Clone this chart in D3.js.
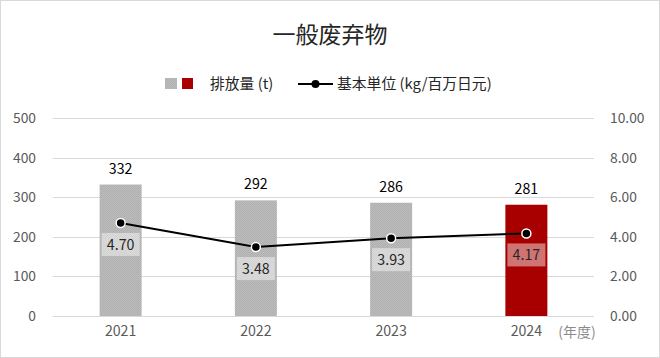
<!DOCTYPE html>
<html><head><meta charset="utf-8">
<script src="https://cdn.jsdelivr.net/npm/d3@7"></script>
<style>body{margin:0;background:#fff}svg{display:block}text{font-family:"Noto Sans CJK JP","Liberation Sans",Arial,sans-serif}</style>
</head><body><svg id="c" width="660" height="358"></svg>
<script>
const years = ["2021","2022","2023","2024"];
const emissions = [332, 292, 286, 281];
const intensity = [4.70, 3.48, 3.93, 4.17];
const leftTicks = [0,100,200,300,400,500];
const rightTicks = [0,2,4,6,8,10];
const title = "一般废弃物";
const legendBar = "排放量 (t)";
const legendLine = "基本単位 (kg/百万日元)";
const unitLabel = "(年度)";

const svg = d3.select("#c");
const W=660,H=358;
const m={l:53,r:66,t:118,b:42};
const x = d3.scaleBand().domain(years).range([m.l, W-m.r]).paddingInner(0).paddingOuter(0);
const yL = d3.scaleLinear().domain([0,500]).range([316,118]);
const yR = d3.scaleLinear().domain([0,10]).range([316,118]);

const defs = svg.append("defs");
const pat = defs.append("pattern").attr("id","dots").attr("width",2).attr("height",2).attr("patternUnits","userSpaceOnUse");
pat.append("rect").attr("width",2).attr("height",2).attr("fill","#bcbcbc");
pat.append("rect").attr("width",1).attr("height",1).attr("fill","#b0b0b0");
pat.append("rect").attr("x",1).attr("y",1).attr("width",1).attr("height",1).attr("fill","#b0b0b0");

svg.append("rect").attr("x",0.5).attr("y",0.5).attr("width",W-1).attr("height",H-1).attr("fill","#fff").attr("stroke","#d9d9d9");

svg.append("text").attr("x",330).attr("y",43).attr("text-anchor","middle").attr("font-size",23).attr("fill","#262626").text(title);

// gridlines
svg.append("g").selectAll("line").data(leftTicks).join("line")
  .attr("x1",m.l).attr("x2",W-m.r).attr("y1",d=>Math.round(yL(d))+0.5).attr("y2",d=>Math.round(yL(d))+0.5)
  .attr("stroke","#d9d9d9").attr("stroke-width",1);

// axes
const gl = svg.append("g").attr("transform",`translate(${m.l},0)`).call(d3.axisLeft(yL).tickValues(leftTicks).tickSize(0).tickPadding(17));
gl.select(".domain").remove();
gl.selectAll("text").attr("font-size",13.8).attr("fill","#595959").attr("font-family","Liberation Sans, Arial, sans-serif");
const gr = svg.append("g").attr("transform",`translate(${W-m.r},0)`).call(d3.axisRight(yR).tickValues(rightTicks).tickFormat(d3.format(".2f")).tickSize(0).tickPadding(16));
gr.select(".domain").remove();
gr.selectAll("text").attr("font-size",13.8).attr("fill","#595959").attr("font-family","Liberation Sans, Arial, sans-serif");
const gb = svg.append("g").attr("transform",`translate(0,316)`).call(d3.axisBottom(x).tickSize(0).tickPadding(10));
gb.select(".domain").remove();
gb.selectAll("text").attr("font-size",14.2).attr("fill","#595959").attr("font-family","Liberation Sans, Arial, sans-serif");
svg.append("text").attr("x",577).attr("y",337).attr("text-anchor","middle").attr("font-size",14).attr("fill","#8c8c8c").text(unitLabel);

// bars
const bw = 42;
const barFill = (d,i)=> i===years.length-1 ? "#a80000" : "url(#dots)";
svg.append("g").selectAll("rect").data(emissions).join("rect")
  .attr("x",(d,i)=>x(years[i])+x.bandwidth()/2-bw/2).attr("width",bw)
  .attr("y",d=>yL(d)).attr("height",d=>yL(0)-yL(d)).attr("fill",barFill);
svg.append("line").attr("x1",m.l).attr("x2",W-m.r).attr("y1",316.5).attr("y2",316.5).attr("stroke","#d9d9d9");

svg.append("g").selectAll("text").data(emissions).join("text")
  .attr("x",(d,i)=>x(years[i])+x.bandwidth()/2).attr("y",d=>yL(d)-11)
  .attr("text-anchor","middle").attr("font-size",14.2).attr("fill","#000").attr("font-family","Liberation Sans, Arial, sans-serif").text(d=>d);

// line
const cx = i=>x(years[i])+x.bandwidth()/2;
svg.append("path").datum(intensity).attr("fill","none").attr("stroke","#000").attr("stroke-width",2)
  .attr("d",d3.line().x((d,i)=>cx(i)).y(d=>yR(d)));
svg.append("g").selectAll("circle").data(intensity).join("circle")
  .attr("cx",(d,i)=>cx(i)).attr("cy",d=>yR(d)).attr("r",4.5).attr("fill","#000").attr("stroke","#fff").attr("stroke-width",1.5);

const lg = svg.append("g").selectAll("g").data(intensity).join("g")
  .attr("transform",(d,i)=>`translate(${cx(i)},${yR(d)+10})`);
lg.append("rect").attr("x",-19).attr("y",0).attr("width",38).attr("height",23).attr("fill","#fff").attr("fill-opacity",0.45);
lg.append("text").attr("x",0).attr("y",17).attr("text-anchor","middle").attr("font-size",14.2).attr("fill","#262626").attr("font-family","Liberation Sans, Arial, sans-serif").text(d=>d.toFixed(2));

// legend
const L = svg.append("g");
L.append("rect").attr("x",165).attr("y",78).attr("width",12).attr("height",11).attr("fill","url(#dots)");
L.append("rect").attr("x",182).attr("y",78).attr("width",11).attr("height",11).attr("fill","#a80000");
L.append("text").attr("x",210).attr("y",89).attr("font-size",14.8).attr("fill","#262626").text(legendBar);
L.append("line").attr("x1",298).attr("x2",333).attr("y1",84).attr("y2",84).attr("stroke","#000").attr("stroke-width",2);
L.append("circle").attr("cx",315.5).attr("cy",84).attr("r",4).attr("fill","#000");
L.append("text").attr("x",337).attr("y",89).attr("font-size",14.8).attr("fill","#262626").text(legendLine);
</script></body></html>
